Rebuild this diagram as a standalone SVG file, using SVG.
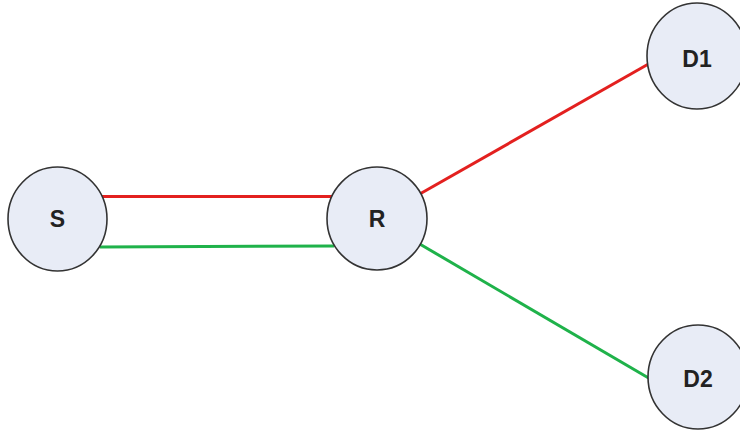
<svg xmlns="http://www.w3.org/2000/svg" width="740" height="432" viewBox="0 0 740 432">
<style>
.node ellipse{fill:#e8ecf6;stroke:#333;stroke-width:1.6}
.node text{font-family:"Liberation Sans",Arial,sans-serif;font-weight:bold;font-size:23px;fill:#222;text-anchor:middle}
.red{stroke:#e3201f;stroke-width:3;fill:none}
.green{stroke:#1fb24a;stroke-width:3;fill:none}
</style>
<rect width="740" height="432" fill="#fff"/>
<g id="connectors">
<line class="red" x1="100" y1="196.5" x2="334" y2="196.5"/>
<line class="green" x1="100" y1="247" x2="334" y2="246"/>
<line class="red" x1="418" y1="195" x2="652" y2="62"/>
<line class="green" x1="418" y1="243" x2="652" y2="380"/>
</g>
<g id="S" class="node"><ellipse cx="57.5" cy="219" rx="49.5" ry="52"/><text x="57.5" y="226.7">S</text></g>
<g id="R" class="node"><ellipse cx="377" cy="218.5" rx="50" ry="51.5"/><text x="377" y="226.5">R</text></g>
<g id="D1" class="node"><ellipse cx="697" cy="56" rx="50" ry="53"/><text x="697" y="66.7">D1</text></g>
<g id="D2" class="node"><ellipse cx="698" cy="377" rx="50" ry="52"/><text x="698" y="386.5">D2</text></g>
</svg>
